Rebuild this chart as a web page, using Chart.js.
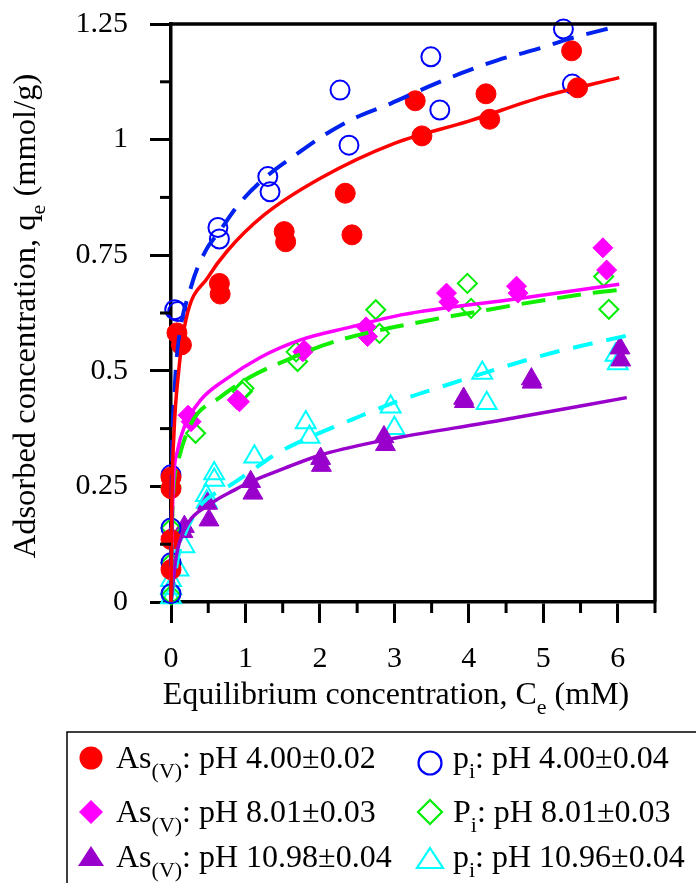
<!DOCTYPE html>
<html>
<head>
<meta charset="utf-8">
<title>Adsorption isotherms</title>
<script src="https://cdn.jsdelivr.net/npm/chart.js@4.4.1/dist/chart.umd.min.js"></script>
<style>
  html, body { margin: 0; padding: 0; background: #fff; overflow: hidden; }
  #wrap { width: 696px; height: 883px; }
</style>
</head>
<body>
<div id="wrap"><canvas id="isoChart" width="696" height="883"></canvas></div>
<script>
// ============================================
// Data
// ============================================

// As(V), pH 4.00
const asPh4X = [0, 0, 0, 0, 0.08, 0.14, 0.65, 0.66, 1.52, 1.54, 2.34, 2.43, 3.28, 3.37, 4.23, 4.28, 5.38, 5.46];
const asPh4Y = [0.07, 0.135, 0.245, 0.27, 0.582, 0.556, 0.689, 0.666, 0.801, 0.779, 0.884, 0.794, 1.084, 1.008, 1.099, 1.044, 1.192, 1.112];
// Pi, pH 4.00
const piPh4X = [0, 0, 0, 0, 0.05, 0.09, 0.63, 0.65, 1.3, 1.33, 2.27, 2.39, 3.49, 3.61, 5.27, 5.39];
const piPh4Y = [0.018, 0.085, 0.16, 0.275, 0.632, 0.628, 0.81, 0.785, 0.92, 0.887, 1.107, 0.988, 1.179, 1.064, 1.239, 1.12];
// As(V), pH 8.01
const asPh8X = [0, 0, 0.23, 0.27, 0.89, 0.92, 1.77, 1.79, 2.62, 2.64, 3.7, 3.73, 4.64, 4.66, 5.8, 5.85];
const asPh8Y = [0.075, 0.141, 0.404, 0.39, 0.437, 0.433, 0.541, 0.545, 0.595, 0.574, 0.668, 0.649, 0.683, 0.668, 0.766, 0.718];
// Pi, pH 8.01
const piPh8X = [0, 0, 0, 0, 0.33, 0.96, 0.98, 1.68, 1.7, 2.75, 2.8, 3.98, 4.03, 5.81, 5.88];
const piPh8Y = [0.015, 0.085, 0.16, 0.25, 0.365, 0.455, 0.462, 0.541, 0.52, 0.632, 0.581, 0.689, 0.635, 0.704, 0.633];
// As(V), pH 10.98
const asPh11X = [0.16, 0.18, 0.49, 0.51, 1.07, 1.1, 2.01, 2.02, 2.86, 2.88, 3.93, 3.94, 4.84, 4.85, 6.03, 6.04];
const asPh11Y = [0.152, 0.163, 0.213, 0.177, 0.26, 0.235, 0.31, 0.295, 0.357, 0.34, 0.44, 0.433, 0.482, 0.475, 0.549, 0.523];
// Pi, pH 10.96
const piPh11X = [0, 0, 0, 0.1, 0.18, 0.47, 0.48, 0.58, 0.58, 1.12, 1.81, 1.86, 2.95, 3.0, 4.18, 4.24, 5.97, 6.0];
const piPh11Y = [0.01, 0.03, 0.047, 0.07, 0.12, 0.231, 0.217, 0.278, 0.264, 0.314, 0.388, 0.357, 0.422, 0.376, 0.495, 0.43, 0.534, 0.516];

// fitted isotherm curves
const asPh4FitX = [0, 0.01, 0.04, 0.1, 0.2, 0.5, 0.75, 1.25, 2, 3, 4, 5, 6.02];
const asPh4FitY = [0, 0.2, 0.365, 0.494, 0.61, 0.703, 0.758, 0.837, 0.916, 0.992, 1.04, 1.093, 1.134];
const piPh4FitX = [0, 0.01, 0.05, 0.085, 0.27, 0.47, 0.63, 0.92, 1.28, 1.7, 2.06, 2.46, 2.95, 3.45, 3.89, 4.39, 4.88, 5.37, 6.02];
const piPh4FitY = [0, 0.25, 0.46, 0.54, 0.682, 0.761, 0.797, 0.862, 0.92, 0.97, 1.01, 1.046, 1.078, 1.114, 1.143, 1.172, 1.194, 1.219, 1.246];
const asPh8FitX = [0, 0.01, 0.03, 0.09, 0.18, 0.4, 0.72, 1.21, 1.74, 2.42, 3.09, 4.65, 6.02];
const asPh8FitY = [0, 0.12, 0.25, 0.329, 0.379, 0.437, 0.48, 0.53, 0.567, 0.595, 0.621, 0.656, 0.687];
const piPh8FitX = [0, 0.02, 0.09, 0.27, 0.67, 1.07, 1.61, 2.19, 3.49, 4.12, 4.61, 5.1, 5.64, 6.02];
const piPh8FitY = [0, 0.2, 0.3, 0.386, 0.444, 0.487, 0.527, 0.563, 0.61, 0.628, 0.642, 0.655, 0.668, 0.675];
const asPh11FitX = [0, 0.07, 0.18, 0.54, 0.85, 1.07, 1.52, 2.01, 2.86, 3.09, 4.43, 6.12];
const asPh11FitY = [0, 0.098, 0.156, 0.213, 0.242, 0.26, 0.289, 0.318, 0.35, 0.357, 0.393, 0.442];
const piPh11FitX = [0, 0.1, 0.36, 0.63, 0.8, 1.03, 1.43, 1.83, 2.42, 3.09, 3.6, 4.34, 5.1, 6.12];
const piPh11FitY = [0, 0.1, 0.2, 0.239, 0.253, 0.278, 0.322, 0.354, 0.394, 0.437, 0.464, 0.502, 0.538, 0.576];

// axis ticks
const xTickValues = [0, 1, 2, 3, 4, 5, 6];
const yTickValues = [0, 0.25, 0.5, 0.75, 1, 1.25];

const FONT = "'Liberation Serif', 'Times New Roman', serif";
const pts = (xs, ys) => xs.map((x, i) => ({ x: x, y: ys[i] }));

// ============================================
// Dataset builders
// ============================================
function markers(xs, ys, style, color, filled, r) {
    return {
        data: pts(xs, ys),
        showLine: false,
        pointStyle: style,
        pointRadius: r,
        pointBackgroundColor: filled ? color : 'rgba(0,0,0,0)',
        pointBorderColor: color,
        pointBorderWidth: filled ? 1 : 2,
        clip: false,
        order: 2
    };
}

function fitLine(xs, ys, color, dash) {
    return {
        data: pts(xs, ys),
        showLine: true,
        borderColor: color,
        borderWidth: dash ? 4 : 3.5,
        borderDash: dash || [],
        pointRadius: 0,
        cubicInterpolationMode: 'monotone',
        fill: false,
        clip: false,
        order: 1
    };
}

// ============================================
// Helpers for text with subscripts
// ============================================
function drawRich(ctx, parts, x, y, size, align, subShift) {
    const main = size + 'px ' + FONT;
    const small = Math.round(size * 0.68) + 'px ' + FONT;
    let w = 0;
    parts.forEach(p => { ctx.font = p.sub ? small : main; w += ctx.measureText(p.t).width; });
    let cx = align === 'center' ? x - w / 2 : x;
    parts.forEach(p => {
        ctx.font = p.sub ? small : main;
        ctx.fillText(p.t, cx, p.sub ? y + size * (subShift || 0.3) : y);
        cx += ctx.measureText(p.t).width;
    });
}

function legendMarker(ctx, style, color, filled, x, y) {
    ctx.beginPath();
    if (style === 'circle') {
        ctx.arc(x, y, 11.5, 0, Math.PI * 2);
    } else if (style === 'diamond') {
        ctx.moveTo(x, y - 12); ctx.lineTo(x + 12, y); ctx.lineTo(x, y + 12); ctx.lineTo(x - 12, y);
        ctx.closePath();
    } else {
        ctx.moveTo(x, y - 11); ctx.lineTo(x + 13, y + 9); ctx.lineTo(x - 13, y + 9);
        ctx.closePath();
    }
    if (filled) { ctx.fillStyle = color; ctx.fill(); }
    else { ctx.strokeStyle = color; ctx.lineWidth = 2.2; ctx.stroke(); }
}

const legendItems = [
    { col: 0, y: 768, my: 758, style: 'circle', color: '#ff0000', filled: true,
      parts: [{ t: 'As' }, { t: '(V)', sub: true }, { t: ': pH 4.00±0.02' }] },
    { col: 0, y: 822, my: 812, style: 'diamond', color: '#ff00ff', filled: true,
      parts: [{ t: 'As' }, { t: '(V)', sub: true }, { t: ': pH 8.01±0.03' }] },
    { col: 0, y: 867, my: 857, style: 'triangle', color: '#9900cc', filled: true,
      parts: [{ t: 'As' }, { t: '(V)', sub: true }, { t: ': pH 10.98±0.04' }] },
    { col: 1, y: 768, my: 763, style: 'circle', color: '#0000ff', filled: false,
      parts: [{ t: 'p' }, { t: 'i', sub: true }, { t: ': pH 4.00±0.04' }] },
    { col: 1, y: 822, my: 812, style: 'diamond', color: '#00ee00', filled: false,
      parts: [{ t: 'P' }, { t: 'i', sub: true }, { t: ': pH 8.01±0.03' }] },
    { col: 1, y: 867, my: 859, style: 'triangle', color: '#00ffff', filled: false,
      parts: [{ t: 'p' }, { t: 'i', sub: true }, { t: ': pH 10.96±0.04' }] }
];

// ============================================
// Plugin: frame, minor ticks, axis titles, legend box
// ============================================
const decorPlugin = {
    id: 'decor',
    afterDraw(chart) {
        const ctx = chart.ctx;
        const area = chart.chartArea;
        const xs = chart.scales.x;
        const ys = chart.scales.y;
        ctx.save();

        // top and right frame
        ctx.strokeStyle = '#000';
        ctx.lineWidth = 3.5;
        ctx.beginPath();
        ctx.moveTo(area.left, area.top);
        ctx.lineTo(area.right, area.top);
        ctx.lineTo(area.right, area.bottom);
        ctx.stroke();

        // minor ticks
        ctx.lineWidth = 3;
        for (let v = 0.5; v <= 6.5; v += 1) {
            const px = xs.getPixelForValue(v);
            ctx.beginPath(); ctx.moveTo(px, area.bottom); ctx.lineTo(px, area.bottom + 11); ctx.stroke();
        }
        for (let v = 0.125; v < 1.25; v += 0.25) {
            const py = ys.getPixelForValue(v);
            ctx.beginPath(); ctx.moveTo(area.left - 11, py); ctx.lineTo(area.left, py); ctx.stroke();
        }

        // axis titles
        ctx.fillStyle = '#000';
        ctx.textBaseline = 'alphabetic';
        drawRich(ctx, [{ t: 'Equilibrium concentration, C' }, { t: 'e', sub: true }, { t: ' (mM)' }],
            396, 704, 32, 'center');
        ctx.save();
        ctx.translate(35, 316);
        ctx.rotate(-Math.PI / 2);
        drawRich(ctx, [{ t: 'Adsorbed concentration, q' }, { t: 'e', sub: true }, { t: ' (mmol/g)' }],
            0, 0, 32.5, 'center');
        ctx.restore();

        // legend box, running off the bottom-right of the page
        ctx.strokeStyle = '#000';
        ctx.lineWidth = 1.5;
        ctx.strokeRect(67, 732, 700, 200);
        legendItems.forEach(it => {
            const mx = it.col === 0 ? 91 : 430;
            const tx = it.col === 0 ? 116 : 453;
            legendMarker(ctx, it.style, it.color, it.filled, mx, it.my);
            ctx.fillStyle = '#000';
            drawRich(ctx, it.parts, tx, it.y, 32, 'left', 0.32);
        });
        ctx.restore();
    }
};

// ============================================
// Chart
// ============================================
const ctx = document.getElementById('isoChart').getContext('2d');
new Chart(ctx, {
    type: 'scatter',
    data: {
        datasets: [
            fitLine(asPh4FitX, asPh4FitY, '#ff0000'),
            fitLine(piPh4FitX, piPh4FitY, '#0022ee', [22, 13]),
            fitLine(asPh8FitX, asPh8FitY, '#ff00ff'),
            fitLine(piPh8FitX, piPh8FitY, '#11ee00', [24, 12]),
            fitLine(asPh11FitX, asPh11FitY, '#9900cc'),
            fitLine(piPh11FitX, piPh11FitY, '#00ffff', [20, 14]),
            markers(asPh4X, asPh4Y, 'circle', '#ff0000', true, 10),
            markers(piPh4X, piPh4Y, 'circle', '#0000ff', false, 9.5),
            markers(asPh8X, asPh8Y, 'rectRot', '#ff00ff', true, 10),
            markers(piPh8X, piPh8Y, 'rectRot', '#00ee00', false, 9.5),
            markers(asPh11X, asPh11Y, 'triangle', '#9900cc', true, 11.5),
            markers(piPh11X, piPh11Y, 'triangle', '#00ffff', false, 11.5)
        ]
    },
    options: {
        responsive: false,
        animation: false,
        devicePixelRatio: 1,
        events: [],
        layout: { padding: { top: 24, right: 41, bottom: 0, left: 0 } },
        plugins: { legend: { display: false }, tooltip: { enabled: false } },
        scales: {
            x: {
                type: 'linear',
                min: 0,
                max: 6.5,
                afterBuildTicks: s => { s.ticks = xTickValues.map(v => ({ value: v })); },
                afterFit: s => { s.height = 281; s.paddingLeft = 0; s.paddingRight = 0; },
                grid: { drawOnChartArea: false, drawTicks: true, tickLength: 21, tickWidth: 3, tickColor: '#000' },
                border: { display: true, color: '#000', width: 3.5 },
                ticks: { color: '#000', padding: 18, maxRotation: 0, callback: v => String(v), font: { family: FONT, size: 30 } }
            },
            y: {
                type: 'linear',
                min: 0,
                max: 1.25,
                afterBuildTicks: s => { s.ticks = yTickValues.map(v => ({ value: v })); },
                afterFit: s => { s.width = 171; s.paddingTop = 0; s.paddingBottom = 0; },
                grid: { drawOnChartArea: false, drawTicks: true, tickLength: 21, tickWidth: 3, tickColor: '#000' },
                border: { display: true, color: '#000', width: 3.5 },
                ticks: { color: '#000', padding: 22, callback: v => String(v), font: { family: FONT, size: 30 } }
            }
        }
    },
    plugins: [decorPlugin]
});
</script>
</body>
</html>
